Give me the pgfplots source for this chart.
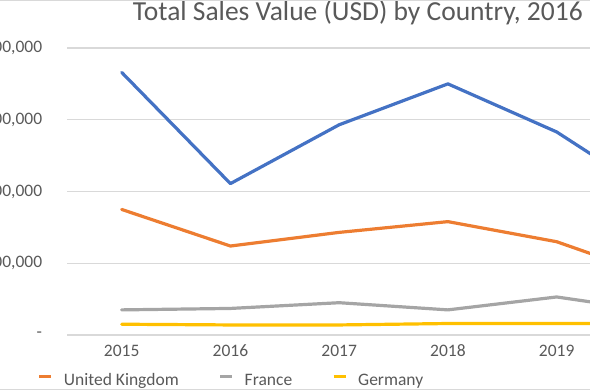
\documentclass[border=0pt]{standalone}
\usepackage{fontspec}
\setmainfont{Carlito}
\usepackage{pgfplots}
\pgfplotsset{compat=1.18}
\definecolor{xlblue}{HTML}{4472C4}
\definecolor{xlorange}{HTML}{ED7D31}
\definecolor{xlgray}{HTML}{A5A5A5}
\definecolor{xlyellow}{HTML}{FFC000}
\definecolor{gridgray}{HTML}{D9D9D9}
\definecolor{textgray}{HTML}{595959}
\begin{document}
\begin{tikzpicture}[x=1pt,y=1pt]
\useasboundingbox (0,0) rectangle (590,390);
\clip (0,0) rectangle (590,390);
\begin{axis}[
  at={(67.3pt,55pt)}, anchor=south west,
  width=652.5pt, height=287pt, scale only axis,
  xmin=-0.5, xmax=5.5, ymin=0, ymax=800000,
  scaled y ticks=false,
  xtick={0,1,2,3,4,5}, xticklabels={2015,2016,2017,2018,2019,2020},
  ytick={0,200000,400000,600000,800000},
  yticklabels={{-},{200,000},{400,000},{600,000},{800,000}},
  axis line style={draw=none},
  major tick length=0pt,
  ymajorgrids, grid style={color=gridgray, line width=1.3pt},
  tick label style={font=\fontsize{17.5}{20}\selectfont, text=textgray},
  yticklabel style={anchor=east, inner sep=0pt, xshift=-25pt},
  xticklabel style={anchor=base, inner sep=0pt, yshift=-22pt},
  legend columns=-1,
  legend style={at={(0,0)}, anchor=south west, xshift=-29.3pt, yshift=-55pt,
    draw=none, fill=none, inner sep=0pt, outer sep=0pt,
    font=\fontsize{17.5}{20}\selectfont, text=textgray,
    nodes={inner sep=0pt, text height=12pt, text depth=4pt},
    /tikz/every odd column/.append style={column sep=11pt},
    /tikz/every even column/.append style={column sep=40pt}},
  legend image code/.code={\draw[#1, line width=3pt, line cap=butt] (-2pt,5.5pt) -- (10pt,5.5pt);},
  every axis plot/.append style={line width=3.2pt, line join=round, line cap=round},
  clip=false,
]
\addplot[xlblue, forget plot] coordinates {(0,732000) (1,422000) (2,586000) (3,700000) (4,566000) (5,370000)};
\addplot[xlorange] coordinates {(0,350000) (1,248000) (2,286000) (3,316000) (4,260000) (5,154000)};
\addlegendentry{United Kingdom}
\addplot[xlgray] coordinates {(0,70000) (1,74000) (2,90000) (3,70000) (4,106000) (5,62000)};
\addlegendentry{France}
\addplot[xlyellow] coordinates {(0,30000) (1,28000) (2,28000) (3,32000) (4,32000) (5,32000)};
\addlegendentry{Germany}
\end{axis}
\node[anchor=base east, inner sep=0pt, font=\fontsize{27.5}{32}\selectfont, text=textgray] at (583,369) {Total Sales Value (USD) by Country, 2016};
\draw[gridgray, line width=1pt] (0,389.5) -- (590,389.5);
\draw[gridgray, line width=1pt] (0,0.5) -- (590,0.5);
\end{tikzpicture}
\end{document}
